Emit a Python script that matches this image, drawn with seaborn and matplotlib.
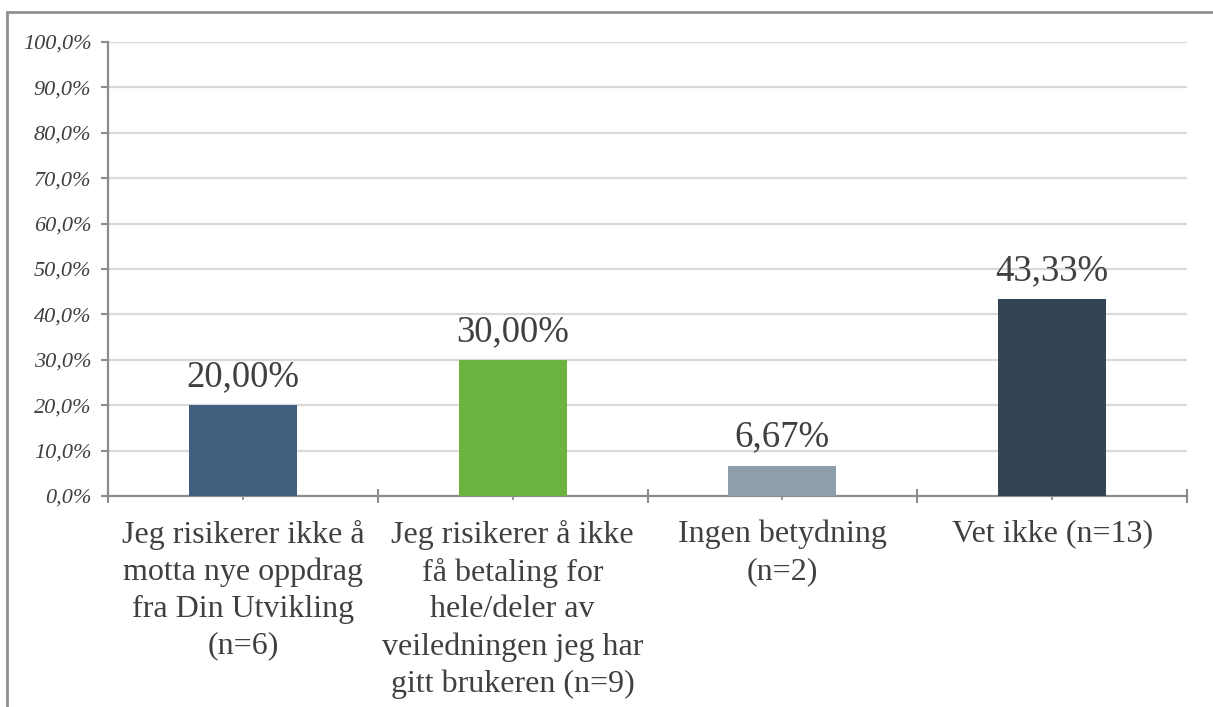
import matplotlib
matplotlib.use("Agg")
import matplotlib.pyplot as plt
import matplotlib.patches as mpatches
import seaborn as sns
import pandas as pd
import numpy as np

# --- chart data ---
categories = [
    "Jeg risikerer ikke å\nmotta nye oppdrag\nfra Din Utvikling\n(n=6)",
    "Jeg risikerer å ikke\nfå betaling for\nhele/deler av\nveiledningen jeg har\ngitt brukeren (n=9)",
    "Ingen betydning\n(n=2)",
    "Vet ikke (n=13)",
]
values = [20.00, 30.00, 6.67, 43.33]
bar_colors = ["#3E5F7D", "#6DB33F", "#8C9FAB", "#334555"]
y_ticks = [0, 10, 20, 30, 40, 50, 60, 70, 80, 90, 100]

df = pd.DataFrame({"category": categories, "value": values})

sns.set_style("white")
plt.rcParams['font.family'] = ['Liberation Serif', 'DejaVu Serif']

fig = plt.figure(figsize=(12.13, 7.07), dpi=100)
ax = fig.add_axes([108 / 1213, 1 - 496 / 707, (1187 - 108) / 1213, (496 - 42) / 707])

sns.barplot(data=df, x="category", y="value", hue="category", palette=bar_colors,
            width=0.4, saturation=1, legend=False, linewidth=0, ax=ax, zorder=3)

ax.set_ylim(0, 100)
ax.set_xlim(-0.5, len(categories) - 0.5)
ax.set_yticks(y_ticks)
ax.set_yticklabels([f"{t:.1f}%".replace(".", ",") for t in y_ticks],
                   fontstyle="italic", fontsize=16, color="#404040")
ax.set_xticks(range(len(categories)))
ax.set_xticklabels(categories, fontsize=23, color="#404040", linespacing=1.35, va="top")
ax.set_xticks(np.arange(-0.5, len(categories)), minor=True)
ax.set_xlabel("")
ax.set_ylabel("")

ax.yaxis.grid(True, color="#D9D9D9", linewidth=1.6, zorder=0)
ax.set_axisbelow(True)

for side in ["top", "right"]:
    ax.spines[side].set_visible(False)
for side in ["left", "bottom"]:
    ax.spines[side].set_color("#8C8C8C")
    ax.spines[side].set_linewidth(1.6)

ax.tick_params(axis="y", which="major", direction="out", length=5, width=1.5,
               color="#8C8C8C", pad=7, left=True)
ax.tick_params(axis="x", which="major", direction="inout", length=6, width=1.3,
               color="#8C8C8C", pad=14, bottom=True)
ax.tick_params(axis="x", which="minor", direction="inout", length=10, width=1.5,
               color="#8C8C8C", bottom=True)

for i, v in enumerate(values):
    ax.annotate(f"{v:.2f}%".replace(".", ","), xy=(i, v), xytext=(0, 8),
                textcoords="offset points", ha="center", va="bottom",
                fontsize=26.5, color="#404040")

# outer frame of the chart area
frame = mpatches.Rectangle((7 / 1213, -0.05), 1.1, 1 - 12 / 707 + 0.05,
                           transform=fig.transFigure, fill=False,
                           edgecolor="#909090", linewidth=2, clip_on=False)
fig.patches.append(frame)

fig.savefig("out.png", dpi=100)
